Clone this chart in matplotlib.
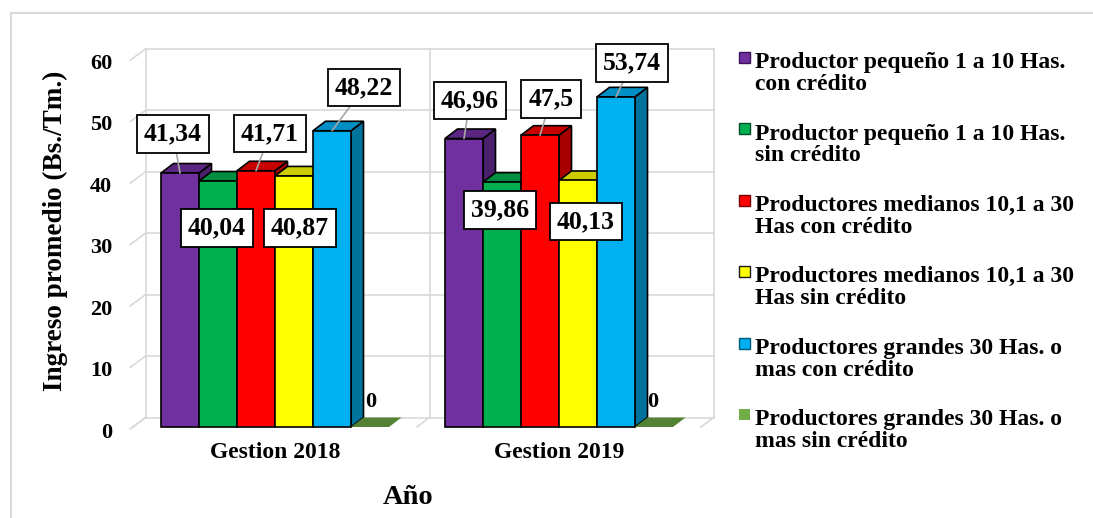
import matplotlib
matplotlib.use("Agg")
import matplotlib.pyplot as plt  # noqa: E402
from matplotlib.patches import Polygon, Rectangle  # noqa: E402
from matplotlib.transforms import ScaledTranslation  # noqa: E402

# Data
years = ["Gestion 2018", "Gestion 2019"]
series_names = [
    "Productor pequeño 1 a 10 Has.\ncon crédito",
    "Productor pequeño 1 a 10 Has.\nsin crédito",
    "Productores medianos 10,1 a 30\nHas con crédito",
    "Productores medianos 10,1 a 30\nHas sin crédito",
    "Productores grandes 30 Has. o\nmas con crédito",
    "Productores grandes 30 Has. o\nmas sin crédito",
]
peq_con = [41.34, 46.96]
peq_sin = [40.04, 39.86]
med_con = [41.71, 47.5]
med_sin = [40.87, 40.13]
gra_con = [48.22, 53.74]
gra_sin = [0, 0]
series_values = [peq_con, peq_sin, med_con, med_sin, gra_con, gra_sin]

# Face colours per series: front, top, side
front_colors = ["#7030A0", "#00B050", "#FF0000", "#FFFF00", "#00B0F0", "#70AD47"]
top_colors = ["#5B2682", "#008F40", "#C80000", "#CCCC00", "#008FC4", "#548235"]
side_colors = ["#4A1F6B", "#007A37", "#A80000", "#B0B000", "#00739C", "#4A7330"]
edge_colors = ["black"] * 5 + ["none"]
legend_edges = ["#3A1058", "#004F24", "#7A0000", "#1A1A1A", "#005C7A", "none"]

# Data-label placement, pixel offsets from the bar's front-top centre
label_offsets = [
    [(-7, 39), (6, 38)],
    [(-1, -47), (-2, -28)],
    [(14, 37), (11, 36)],
    [(6, -52), (8, -41)],
    [(32, 43), (16, 34)],
    [(1, 25), (-1, 25)],
]

FONT = "Liberation Serif"
GRID = "#D9D9D9"
W, H = 1093, 518

fig = plt.figure(figsize=(W / 100, H / 100), dpi=100)
ax = fig.add_axes([133 / W, 91 / H, 568 / W, 368.6 / H])
ax.set_xlim(-0.5, 1.5)
ax.set_ylim(0, 60)
for s in ax.spines.values():
    s.set_visible(False)

bar_w = 38 / 284          # bar width in category units
depth_x = 12.5 / 284      # 3-D depth offset, x
depth_y = 9.5 / 6.144     # 3-D depth offset, y (value units)

# back wall, floor and gridlines
yt = list(range(0, 61, 10))
for v in yt:
    ax.plot([-0.5 + depth_x, 1.5 + depth_x], [v + depth_y] * 2,
            color=GRID, lw=1.2, zorder=0, clip_on=False)
    ax.plot([-0.5 - 0.01, -0.5 + depth_x], [v - 0.3, v + depth_y],
            color=GRID, lw=1.2, zorder=0, clip_on=False)
for xb in [-0.5, 0.5, 1.5]:
    ax.plot([xb + depth_x] * 2, [depth_y, 60 + depth_y],
            color=GRID, lw=1.2, zorder=0, clip_on=False)
    ax.plot([xb, xb + depth_x], [0, depth_y],
            color=GRID, lw=1.2, zorder=0, clip_on=False)

ax.set_yticks(yt)
ax.set_yticklabels([str(v) for v in yt], fontfamily=FONT,
                   fontweight="bold", fontsize=16)
ax.set_xticks(range(len(years)))
ax.set_xticklabels(years, fontfamily=FONT, fontweight="bold", fontsize=17)
ax.tick_params(axis="y", length=0, pad=15)
ax.tick_params(axis="x", length=0, pad=11)
shift = ScaledTranslation(0, -3 / 100, fig.dpi_scale_trans)
for lab in ax.get_yticklabels():
    lab.set_transform(lab.get_transform() + shift)

# 3-D style columns
for ci in range(len(years)):
    for si, vals in enumerate(series_values):
        v = vals[ci]
        x0 = ci - 3 * bar_w + si * bar_w
        x1 = x0 + bar_w
        ec = edge_colors[si]
        side = [(x1, 0), (x1 + depth_x, depth_y),
                (x1 + depth_x, v + depth_y), (x1, v)]
        top = [(x0, v), (x1, v), (x1 + depth_x, v + depth_y),
               (x0 + depth_x, v + depth_y)]
        if v > 0:
            ax.add_patch(Polygon(side, closed=True, fc=side_colors[si],
                                 ec=ec, lw=1.2, zorder=1, clip_on=False))
        ax.add_patch(Polygon(top, closed=True, fc=top_colors[si],
                             ec=ec, lw=1.2, zorder=1, clip_on=False))
        if v > 0:
            ax.add_patch(Rectangle((x0, 0), bar_w, v, fc=front_colors[si],
                                   ec=ec, lw=1.2, zorder=1, clip_on=False))

        # data label
        txt = f"{v:g}".replace(".", ",")
        dx, dy = label_offsets[si][ci]
        xc = x0 + bar_w / 2
        if v == 0:
            ax.annotate(txt, xy=(xc, v), xytext=(dx, dy),
                        textcoords="offset pixels", ha="center", va="center",
                        fontfamily=FONT, fontweight="bold", fontsize=16,
                        zorder=0.5)
            continue
        arrow = None
        if dy > 0:
            arrow = dict(arrowstyle="-", color="#A6A6A6", lw=1.2,
                         shrinkA=0, shrinkB=0)
        ax.annotate(txt, xy=(xc, v), xytext=(dx, dy),
                    textcoords="offset pixels", ha="center", va="center",
                    fontfamily=FONT, fontweight="bold", fontsize=18.5,
                    bbox=dict(boxstyle="square,pad=0.28", fc="white",
                              ec="black", lw=1.3),
                    arrowprops=arrow, zorder=4)

# axis titles
fig.text(55 / W, 1 - 231 / H, "Ingreso promedio (Bs./Tm.)", rotation=90,
         ha="center", va="center", fontfamily=FONT, fontweight="bold",
         fontsize=19.5)
fig.text(408 / W, 1 - 497 / H, "Año", ha="center", va="center",
         fontfamily=FONT, fontweight="bold", fontsize=20.5)

# legend: two-line entries, baseline of the first line at `base`
line_gap = 23
for i, name in enumerate(series_names):
    base = 67 + 71.4 * i
    fig.patches.append(Rectangle((739 / W, 1 - (base - 4) / H), 11 / W, 11 / H,
                                 transform=fig.transFigure,
                                 fc=front_colors[i], ec=legend_edges[i],
                                 lw=1.0))
    fig.text(755 / W, 1 - (base + line_gap) / H, name, ha="left",
             va="baseline", fontfamily=FONT, fontweight="bold", fontsize=17,
             linespacing=1.05)

# chart frame
fig.patches.append(Rectangle((11 / W, -0.2), 1.2, 1.2 - 13 / H,
                             transform=fig.transFigure, fill=False,
                             ec=GRID, lw=1.5))

fig.savefig("out.png", dpi=100)
plt.close(fig)
